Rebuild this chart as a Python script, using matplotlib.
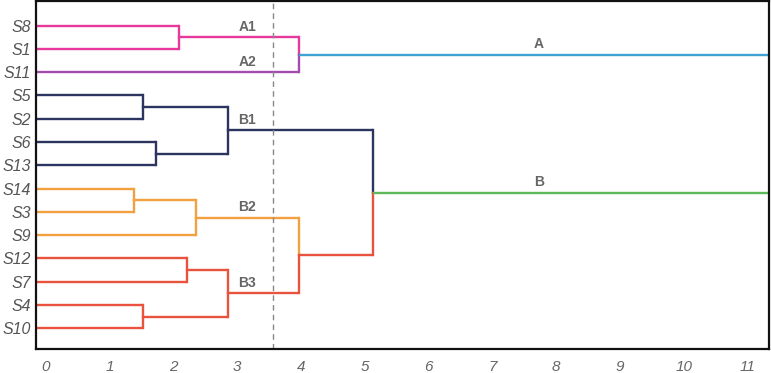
import matplotlib
matplotlib.use('Agg')
import matplotlib.pyplot as plt

#leaf order top to bottom
leaves = ['S8', 'S1', 'S11', 'S5', 'S2', 'S6', 'S13',
          'S14', 'S3', 'S9', 'S12', 'S7', 'S4', 'S10']
#merges: node name, first child, second child, height
nodes = ['A1', 'A', 'B1a', 'B1b', 'B1', 'B2a', 'B2', 'B3a', 'B3b', 'B3', 'B23', 'B', 'root']
left_child = ['S8', 'A1', 'S5', 'S6', 'B1a', 'S14', 'B2a', 'S12', 'S4', 'B3a', 'B2', 'B1', 'A']
right_child = ['S1', 'S11', 'S2', 'S13', 'B1b', 'S3', 'S9', 'S7', 'S10', 'B3b', 'B3', 'B23', 'B']
heights = [2.09, 3.97, 1.52, 1.72, 2.86, 1.39, 2.36, 2.22, 1.52, 2.86, 3.97, 5.13, 12.0]
cut = 3.56
#cluster labels: text, branch it sits on, x position
cluster_labels = ['A1', 'A2', 'B1', 'B2', 'B3', 'A', 'B']
cluster_branch = ['A1', 'S11', 'B1', 'B2', 'B3', 'A', 'B']
cluster_x = [3.16, 3.16, 3.16, 3.16, 3.16, 7.73, 7.73]
ticks = list(range(12))

pink = '#e6399b'
purple = '#a24cae'
navy = '#2b3560'
orange = '#f3a040'
red = '#e9533d'
blue = '#3fa2d2'
green = '#5db95a'
colors = {'S8': pink, 'S1': pink, 'A1': pink, 'S11': purple, 'A': blue,
          'S5': navy, 'S2': navy, 'S6': navy, 'S13': navy,
          'B1a': navy, 'B1b': navy, 'B1': navy,
          'S14': orange, 'S3': orange, 'S9': orange, 'B2a': orange, 'B2': orange,
          'S12': red, 'S7': red, 'S4': red, 'S10': red,
          'B3a': red, 'B3b': red, 'B3': red, 'B23': red, 'B': green}

xmin, xmax = -0.15, 11.33

fig = plt.figure(figsize=(7.71, 3.73), dpi=100)
ax = fig.add_axes([0.047, 0.064, 0.950, 0.934])

#positions of leaves and nodes
ypos = {}
xpos = {}
for i, s in enumerate(leaves):
    ypos[s] = i
    xpos[s] = xmin
for n, a, b, h in zip(nodes, left_child, right_child, heights):
    ypos[n] = (ypos[a] + ypos[b]) / 2
    xpos[n] = h

#draw branches, each child in its own colour
for n, a, b, h in zip(nodes, left_child, right_child, heights):
    mid = ypos[n]
    for c in (a, b):
        col = colors[c]
        ax.plot([xpos[c], h], [ypos[c], ypos[c]], color=col, lw=1.7, solid_capstyle='butt')
        ax.plot([h, h], [ypos[c], mid], color=col, lw=1.7, solid_capstyle='projecting')

#cut line
ax.axvline(cut, color='#888888', lw=1, ls=(0, (4, 3)))

for t, br, x in zip(cluster_labels, cluster_branch, cluster_x):
    ax.annotate(t, (x, ypos[br]), xytext=(0, 2.5), textcoords='offset points',
                ha='center', va='bottom', fontsize=10, fontweight='bold',
                color='#666666', family='Liberation Sans')

ax.set_xlim(xmin, xmax)
ax.set_ylim(13.9, -1.07)
ax.set_yticks(range(len(leaves)))
ax.set_yticklabels(leaves, fontsize=11.5, style='italic', color='#555555',
                   family='Liberation Sans')
ax.set_xticks(ticks)
ax.set_xticklabels([str(t) for t in ticks], fontsize=11, style='italic',
                   color='#666666', family='Liberation Sans')
ax.tick_params(length=0)
ax.tick_params(axis='x', pad=8)
ax.tick_params(axis='y', pad=4)
for sp in ax.spines.values():
    sp.set_linewidth(1.6)
    sp.set_color('#111111')

fig.savefig('out.png', dpi=100)
